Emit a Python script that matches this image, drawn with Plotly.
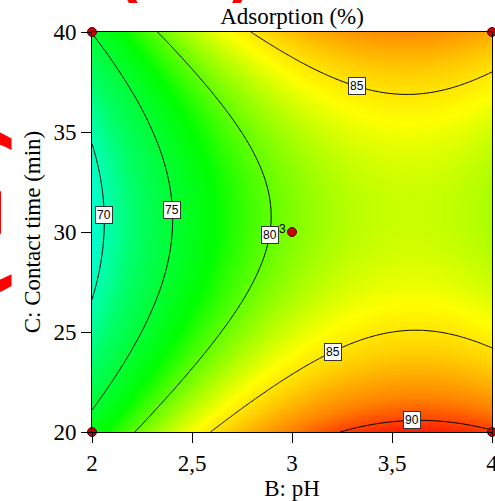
import numpy as np
import plotly.graph_objects as go

# Quadratic response-surface model in coded units
# b = (pH - 3) / 1 ,  c = (time - 30) / 10
coef_names = ["b0", "B", "C", "BB", "CC", "BC"]
coef_values = [80.77, 6.43, -1.10, -5.355, 6.80, -0.40]
coef = dict(zip(coef_names, coef_values))

ph_range = [2.0, 4.0]
time_range = [20.0, 40.0]
contour_levels = [70, 75, 80, 85, 90]

# design points shown on the plot
design_ph = [2, 4, 2, 4, 3]
design_time = [40, 40, 20, 20, 30]
design_text = ["", "", "", "", "3"]

# contour labels: the level and either a time (near-vertical lines, solved
# for pH) or a pH (near-horizontal lines, solved for time) plus a branch hint
label_levels = [70, 75, 80, 85, 85, 90]
label_mode = ["time", "time", "time", "ph", "ph", "ph"]
label_given = [30.85, 31.1, 29.85, 3.325, 3.205, 3.60]
label_hint = [2.06, 2.40, 2.87, 38.0, 24.5, 21.0]

x_ticks = [2, 2.5, 3, 3.5, 4]
x_ticktext = ["2", "2,5", "3", "3,5", "4"]
y_ticks = [20, 25, 30, 35, 40]


def model(ph, t):
    b = ph - 3.0
    c = (t - 30.0) / 10.0
    return (coef["b0"] + coef["B"] * b + coef["C"] * c + coef["BB"] * b * b
            + coef["CC"] * c * c + coef["BC"] * b * c)


def quad_roots(a2, a1, a0):
    disc = a1 * a1 - 4 * a2 * a0
    if disc < 0:
        return np.array([-a1 / (2 * a2)])
    s = np.sqrt(disc)
    return np.array([(-a1 + s) / (2 * a2), (-a1 - s) / (2 * a2)])


def label_point(level, mode, given, hint):
    """Point on the contour `level`, closest to the hint."""
    if mode == "ph":
        b = given - 3.0
        r = quad_roots(coef["CC"], coef["C"] + coef["BC"] * b,
                       coef["b0"] + coef["B"] * b + coef["BB"] * b * b - level)
        times = 30.0 + 10.0 * r
        return given, float(times[np.argmin(np.abs(times - hint))])
    c = (given - 30.0) / 10.0
    r = quad_roots(coef["BB"], coef["B"] + coef["BC"] * c,
                   coef["b0"] + coef["C"] * c + coef["CC"] * c * c - level)
    phs = 3.0 + r
    return float(phs[np.argmin(np.abs(phs - hint))]), given


ph = np.linspace(ph_range[0], ph_range[1], 241)
tm = np.linspace(time_range[0], time_range[1], 241)
PH, TM = np.meshgrid(ph, tm)
Z = model(PH, TM)

zmin, zmax = 66.0, 91.0
color_values = [66, 69, 72.5, 77.5, 84, 86, 88.5, 91]
color_list = ["rgb(0,190,255)", "rgb(0,255,210)", "rgb(0,255,100)",
              "rgb(0,255,0)", "rgb(255,255,0)", "rgb(255,205,0)",
              "rgb(255,130,0)", "rgb(255,20,0)"]
colorscale = [[(v - zmin) / (zmax - zmin), col]
              for v, col in zip(color_values, color_list)]

fig = go.Figure()
fig.add_trace(go.Contour(
    x=ph, y=tm, z=Z,
    colorscale=colorscale, zmin=zmin, zmax=zmax,
    contours=dict(start=contour_levels[0], end=contour_levels[-1], size=5,
                  coloring="heatmap", showlabels=False),
    line=dict(color="black", width=1),
    showscale=False, hoverinfo="skip",
))

fig.add_trace(go.Scatter(
    x=design_ph, y=design_time, mode="markers",
    marker=dict(size=9, color="#c80000", line=dict(color="#500000", width=1)),
    cliponaxis=False, showlegend=False, hoverinfo="skip",
))

annotations = []
for lev, mode, given, hint in zip(label_levels, label_mode, label_given,
                                  label_hint):
    lx, ly = label_point(lev, mode, given, hint)
    annotations.append(dict(
        x=lx, y=ly, xref="x", yref="y",
        text=str(lev), showarrow=False,
        font=dict(family="Liberation Sans", size=12, color="black"),
        bgcolor="white", bordercolor="#333333", borderwidth=1, borderpad=1,
    ))

for p, t, txt in zip(design_ph, design_time, design_text):
    if txt:
        annotations.append(dict(
            x=p, y=t, xref="x", yref="y", text=txt, showarrow=False,
            xshift=-10, yshift=3,
            font=dict(family="Liberation Sans", size=12, color="black"),
        ))

# red hand-drawn panel marks, mostly outside the page
annotations.append(dict(
    x=(185 - 92) / 400, y=1.0 + (32 - 11) / 400, xref="paper", yref="paper",
    xanchor="center", yanchor="bottom", text="<b>( b )</b>",
    showarrow=False,
    font=dict(family="DejaVu Sans", size=60, color="red"),
))
annotations.append(dict(
    x=(22 - 92) / 400, y=1.0 - (212 - 32) / 400, xref="paper", yref="paper",
    xanchor="right", yanchor="middle", text="<b>( 2 )</b>", showarrow=False,
    textangle=-90,
    font=dict(family="DejaVu Sans", size=80, color="red"),
))

serif = "Liberation Serif"
axis_common = dict(
    showline=True, linecolor="black", linewidth=1, mirror=True,
    ticks="outside", ticklen=10, tickcolor="black", tickwidth=1,
    showgrid=False, zeroline=False, ticklabeloverflow="allow",
    automargin=False,
    tickfont=dict(family=serif, size=23, color="black"),
)

fig.update_layout(
    width=495, height=501,
    margin=dict(l=92, r=3, t=32, b=69, autoexpand=False),
    paper_bgcolor="white", plot_bgcolor="white",
    title=dict(text="Adsorption (%)", x=(92 + 200) / 495, xanchor="center",
               y=1 - 16 / 501, yanchor="middle",
               font=dict(family=serif, size=23, color="black")),
    xaxis=dict(range=ph_range, tickvals=x_ticks, ticktext=x_ticktext,
               title=dict(text="B: pH", standoff=4,
                          font=dict(family=serif, size=23, color="black")),
               **axis_common),
    yaxis=dict(range=time_range, tickvals=y_ticks,
               title=dict(text="C: Contact time (min)", standoff=6,
                          font=dict(family=serif, size=23, color="black")),
               **axis_common),
    annotations=annotations,
)

fig.write_html("out.html")
